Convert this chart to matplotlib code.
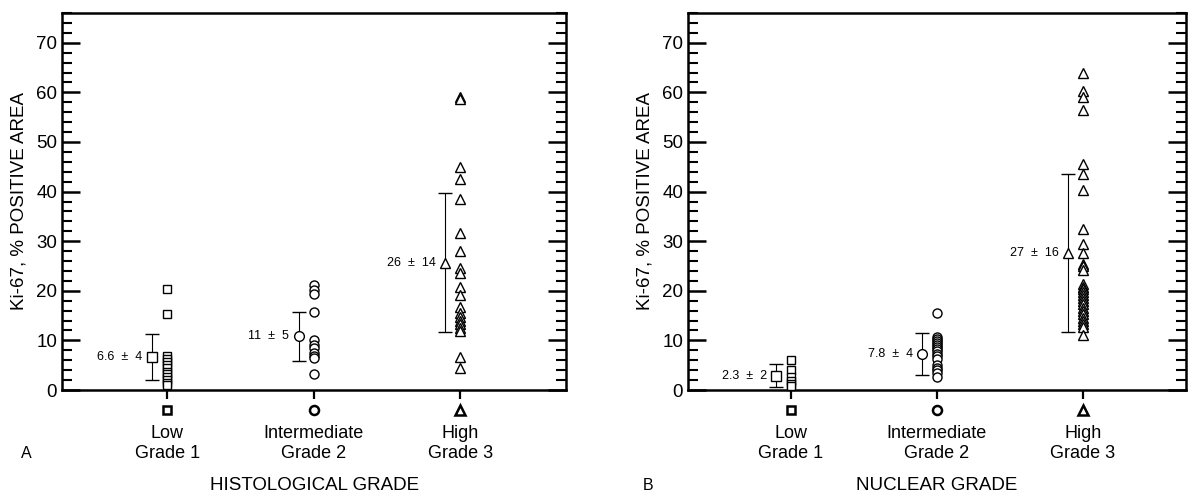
import matplotlib

matplotlib.use("Agg")
import matplotlib.pyplot as plt
from matplotlib.ticker import MultipleLocator

INK = "black"
PAPER = "white"

GRADE_POS = [1, 2, 3]
GRADE_LABELS = ["Low\nGrade 1", "Intermediate\nGrade 2", "High\nGrade 3"]
MARKERS = ["s", "o", "^"]
MARKER_SIZES = [6, 6.5, 7]

# ---- panel A: histological grade ------------------------------------------
HIST_LOW = [20.3, 15.3, 6.8, 6.2, 5.6, 5.0, 4.4, 3.6, 3.2, 2.6, 2.0, 1.5, 1.0]
HIST_INT = [21.2, 20.1, 19.3, 15.8, 10.1, 9.1, 8.4, 7.5, 6.9, 6.5, 3.3]
HIST_HIGH = [59.0, 58.6, 44.9, 42.6, 38.6, 31.7, 28.0, 24.5, 23.6, 20.8,
             19.2, 16.7, 15.6, 14.7, 14.0, 13.3, 12.6, 11.9, 6.6, 4.4]
HIST_MEAN = [6.6, 10.8, 25.7]
HIST_SD = [4.6, 4.9, 14.0]
HIST_TEXT = ["6.6  \u00b1  4", "11  \u00b1  5", "26  \u00b1  14"]

# ---- panel B: nuclear grade -----------------------------------------------
NUC_LOW = [6.0, 4.1, 2.6, 1.9, 1.3, 0.8]
NUC_INT = [15.6, 10.7, 10.3, 9.9, 9.5, 9.1, 8.7, 8.3, 7.8, 7.3, 6.8, 6.3,
           5.0, 4.5, 4.0, 3.5, 2.6]
NUC_HIGH = [63.9, 60.3, 59.0, 56.5, 45.6, 43.6, 40.3, 32.4, 29.5, 27.7,
            25.4, 24.9, 24.1, 21.3, 20.8, 20.3, 19.8, 19.2, 18.6, 18.0,
            17.3, 16.6, 16.0, 15.3, 14.6, 14.0, 13.3, 12.7, 11.0]
NUC_MEAN = [2.9, 7.3, 27.6]
NUC_SD = [2.3, 4.2, 15.9]
NUC_TEXT = ["2.3  \u00b1  2", "7.8  \u00b1  4", "27  \u00b1  16"]

MEAN_OFFSET = 0.1   # mean +/- SD drawn just left of each column
KEY_Y = -4.1        # group symbol shown under the baseline


def draw_panel(ax, groups, means, sds, texts, xlabel, xlim):
    for pos, vals, m, ms, mean, sd, txt in zip(GRADE_POS, groups, MARKERS,
                                               MARKER_SIZES, means, sds, texts):
        ax.plot([pos] * len(vals), vals, ls="none", marker=m, ms=ms,
                mfc=PAPER, mec=INK, mew=1.0, clip_on=False, zorder=3)
        ax.errorbar(pos - MEAN_OFFSET, mean, yerr=sd, fmt=m, ms=ms + 0.5,
                    mfc=PAPER, mec=INK, mew=1.0, ecolor=INK,
                    elinewidth=0.8, capsize=5, capthick=0.8, zorder=3)
        ax.annotate(txt, (pos - MEAN_OFFSET, mean), xytext=(-7, 0),
                    textcoords="offset points", ha="right", va="center",
                    fontsize=9)
        ax.plot([pos], [KEY_Y], ls="none", marker=m, ms=ms, mfc=PAPER,
                mec=INK, mew=1.8, clip_on=False)

    ax.set_xlim(*xlim)
    ax.set_ylim(0, 76)
    ax.set_xticks(GRADE_POS)
    ax.set_xticklabels(GRADE_LABELS, fontsize=13, linespacing=1.2)
    ax.tick_params(axis="x", direction="out", length=6.5, width=1.6, pad=19)
    ax.yaxis.set_major_locator(MultipleLocator(10))
    ax.yaxis.set_minor_locator(MultipleLocator(2))
    ax.tick_params(axis="y", which="both", direction="in", left=True,
                   right=True, labelsize=13.5, pad=3.5)
    ax.tick_params(axis="y", which="major", length=13, width=1.8)
    ax.tick_params(axis="y", which="minor", length=7, width=1.5)
    for sp in ax.spines.values():
        sp.set_linewidth(1.8)
    ax.set_ylabel("Ki-67, % POSITIVE AREA", fontsize=13.5, labelpad=6)
    ax.set_xlabel(xlabel, fontsize=13.5, labelpad=11)


def main():
    plt.rcParams["font.family"] = ["Liberation Sans", "DejaVu Sans"]
    fig = plt.figure(figsize=(11.91, 4.96), dpi=100)
    ax_a = fig.add_axes([0.0521, 0.2137, 0.4232, 0.7601])
    ax_b = fig.add_axes([0.5777, 0.2137, 0.418, 0.7601])

    draw_panel(ax_a, [HIST_LOW, HIST_INT, HIST_HIGH], HIST_MEAN, HIST_SD,
               HIST_TEXT, "HISTOLOGICAL GRADE", (0.283, 3.723))
    draw_panel(ax_b, [NUC_LOW, NUC_INT, NUC_HIGH], NUC_MEAN, NUC_SD,
               NUC_TEXT, "NUCLEAR GRADE", (0.295, 3.705))

    fig.text(0.018, 1 - 454 / 496, "A", fontsize=11.5, va="center")
    fig.text(0.540, 1 - 486 / 496, "B", fontsize=11.5, va="center")
    fig.savefig("out.png", dpi=100, facecolor=PAPER)


if __name__ == "__main__":
    main()
